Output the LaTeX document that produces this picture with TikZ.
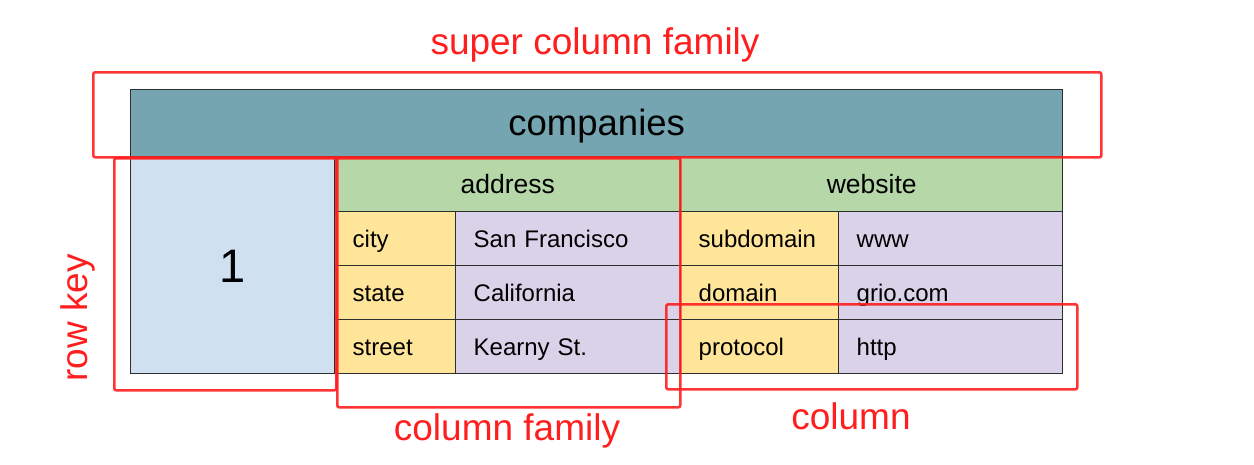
\documentclass[tikz,border=0pt]{standalone}
\usepackage{fontspec}
\setmainfont{Liberation Sans}
\usetikzlibrary{positioning}
\definecolor{tline}{HTML}{2E2E2E}
\definecolor{cfband}{HTML}{74A5B0}
\definecolor{keyblue}{HTML}{CFE0F1}
\definecolor{hdrgreen}{HTML}{B6D7A8}
\definecolor{namey}{HTML}{FFE599}
\definecolor{valp}{HTML}{D9D2E9}
\definecolor{annred}{HTML}{FF1E1E}
\begin{document}
\begin{tikzpicture}[x=1pt,y=-1pt,
  cellbox/.style={draw=tline, line width=1.4pt, inner sep=0pt, anchor=north west},
  lcell/.style={cellbox, minimum height=54pt, inner xsep=18pt, align=left,
                text height=22pt, text depth=4pt,
                font=\fontsize{24}{28}\selectfont},
  hcell/.style={cellbox, fill=hdrgreen, minimum height=55pt,
                text height=24pt, text depth=5pt,
                font=\fontsize{26.5}{30}\selectfont},
  redbox/.style={draw=annred, line width=2.6pt, rounded corners=2pt, inner sep=0pt,
                 anchor=north west, opacity=0.9},
  redlabel/.style={text=annred, font=\fontsize{37}{42}\selectfont, inner sep=0pt}]
\useasboundingbox (0,0) rectangle (1254,464);
% table
\node[cellbox, fill=cfband, minimum width=932pt, minimum height=67pt,
      text height=30pt, text depth=5pt,
      font=\fontsize{36.5}{41}\selectfont] (companies) at (130,89) {companies};
\node[cellbox, fill=keyblue, minimum width=204pt, minimum height=217pt,
      text height=40pt, text depth=5pt,
      font=\fontsize{47}{52}\selectfont] (rowkey) at (130,156) {1};
\node[hcell, minimum width=346pt] (address) at (334,156) {address};
\node[hcell, minimum width=382pt] (website) at (680,156) {website};
% address rows
\node[lcell, fill=namey, text width=85pt]  (city)   at (334,211) {city};
\node[lcell, fill=valp,  text width=189pt] (cityv)  at (455,211) {San Francisco};
\node[lcell, fill=namey, text width=85pt]  (state)  at (334,265) {state};
\node[lcell, fill=valp,  text width=189pt] (statev) at (455,265) {California};
\node[lcell, fill=namey, text width=85pt]  (street) at (334,319) {street};
\node[lcell, fill=valp,  text width=189pt] (streetv) at (455,319) {Kearny St.};
% website rows
\node[lcell, fill=namey, text width=122pt] (sub)    at (680,211) {subdomain};
\node[lcell, fill=valp,  text width=188pt] (subv)   at (838,211) {www};
\node[lcell, fill=namey, text width=122pt] (dom)    at (680,265) {domain};
\node[lcell, fill=valp,  text width=188pt] (domv)   at (838,265) {grio.com};
\node[lcell, fill=namey, text width=122pt] (proto)  at (680,319) {protocol};
\node[lcell, fill=valp,  text width=188pt] (protov) at (838,319) {http};
% annotation boxes
\node[redbox, minimum width=1008pt, minimum height=85pt] (scfbox) at (92,71) {};
\node[redbox, minimum width=222pt, minimum height=232pt] (rkbox) at (113,157) {};
\node[redbox, minimum width=343pt, minimum height=249pt] (cfbox) at (336,157) {};
\node[redbox, minimum width=411pt, minimum height=85pt] (colbox) at (665,303) {};
% annotation labels
\node[redlabel] (scflbl) at (595,45) {super column family};
\node[redlabel, rotate=90] (rklbl) at (78,318) {row key};
\node[redlabel] (cflbl) at (507,431) {column family};
\node[redlabel] (collbl) at (851,416) {column};
\end{tikzpicture}
\end{document}
